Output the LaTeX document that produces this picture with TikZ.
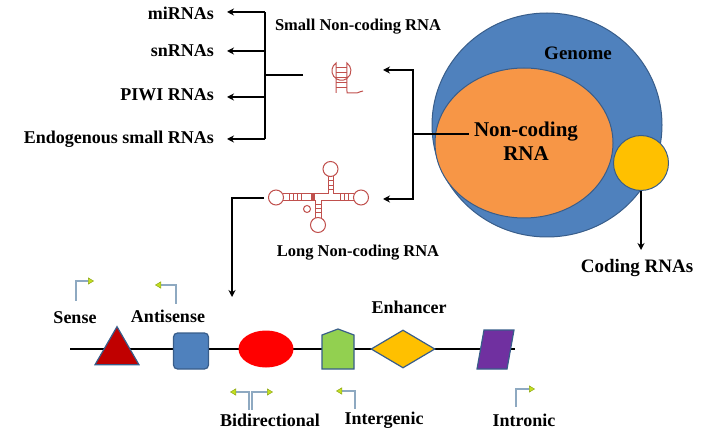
\documentclass[tikz,border=0pt]{standalone}
\usepackage{fontspec}
\setmainfont{Liberation Serif}
\usetikzlibrary{arrows.meta,shapes.geometric}
\definecolor{gblue}{HTML}{4F81BD}
\definecolor{gborder}{HTML}{385D8A}
\definecolor{orng}{HTML}{F79646}
\definecolor{ylw}{HTML}{FFC000}
\definecolor{rnared}{HTML}{C0504D}
\definecolor{prom}{HTML}{8EA9C1}
\definecolor{tipg}{HTML}{C4E020}
\definecolor{tipd}{HTML}{8FA818}
\definecolor{grn}{HTML}{92D050}
\definecolor{purp}{HTML}{7030A0}
\definecolor{dred}{HTML}{C00000}
\tikzset{
 lbl/.style={font=\bfseries\fontsize{18}{20}\selectfont, inner sep=0pt},
 slbl/.style={font=\bfseries\fontsize{16.5}{18}\selectfont, inner sep=0pt},
 conn/.style={line width=1.4pt, -{Stealth[length=7pt,width=7pt]}},
 line/.style={line width=1.4pt},
 pr/.style={draw=prom, line width=1.2pt, -{Triangle[length=6pt,width=7pt,fill=tipg,color=tipd,line width=0.5pt]}},
 rna/.style={draw=rnared, line width=1pt},
 shp/.style={draw=gborder, line width=1.2pt}
}
\begin{document}
\begin{tikzpicture}[x=1pt,y=-1pt]
\useasboundingbox (0,0) rectangle (706,435);
% Genome
\node[ellipse, fill=gblue, draw=gborder, line width=1pt, minimum width=230, minimum height=224] (genome) at (547,125) {};
\node[ellipse, fill=orng, draw=gborder, line width=1pt, minimum width=178, minimum height=150] (nc) at (524,143) {};
\node[circle, fill=ylw, draw=gborder, line width=1pt, minimum size=55] (cod) at (641,163) {};
\node[lbl, font=\bfseries\fontsize{19}{21}\selectfont] (gt) at (578,53) {Genome};
\node[lbl, align=center, font=\bfseries\fontsize{21}{24}\selectfont] (nct) at (526,141) {Non-coding\\RNA};
\node[lbl, font=\bfseries\fontsize{19}{21}\selectfont] (ct) at (637,268) {Coding RNAs};
\draw[conn] (cod.south) -- (641,250);
% branch to small / long
\coordinate (bj) at (413,134);
\coordinate (bs) at (383,70);
\coordinate (bl) at (383,199);
\draw[line] (nc.west |- bj) ++(34,0) -- (bj);
\draw[conn] (bj) -- (413,70) -- (bs);
\draw[conn] (bj) -- (413,199) -- (bl);
% small RNA icon
\node[slbl] (sn) at (358,27) {Small Non-coding RNA};
\draw[rna] (336,93) -- (336,63) arc[start angle=235,end angle=-55,radius=9.5] -- (347,93) -- (357,93) to[out=10,in=180] (363,91);
\foreach \y in {68,73,78,83,88} \draw[rna] (336,\y) -- (347,\y);
% small RNA list
\coordinate (sj) at (265,75);
\draw[line] (303,75) -- (sj);
\draw[line] (265,12) -- (265,139);
\node[lbl, anchor=east] (mi) at (214,13) {miRNAs};
\node[lbl, anchor=east] (sr) at (214,51) {snRNAs};
\node[lbl, anchor=east] (pw) at (214,95) {PIWI RNAs};
\node[lbl, anchor=east] (en) at (214,139) {Endogenous small RNAs};
\foreach \n/\y in {mi/12,sr/51,pw/97,en/139} \draw[conn] (265,\y) -- (227,\y);
% long RNA icon
\draw[rna] (283,194) -- (328,194) -- (328,176) (333,176) -- (333,194) -- (354,194)
 (283,201) -- (315,201) -- (315,218) (321,218) -- (321,201) -- (354,201);
\draw[rna] (276,197.5) circle (7.5) (361,197.5) circle (7.5) (330.5,169) circle (7.5) (318,225) circle (7.5) (307,209) circle (3.5);
\foreach \x in {289,293,297,301,340,344,348} \draw[rna] (\x,194) -- (\x,201);
\foreach \y in {181,186,190} \draw[rna] (328,\y) -- (333,\y);
\foreach \y in {205,209,213} \draw[rna] (315,\y) -- (321,\y);
\fill[rnared] (311,193) rectangle (315,201);
\node[slbl] (ln) at (358,253) {Long Non-coding RNA};
\coordinate (lc) at (232,198);
\draw[conn] (264,198) -- (lc) -- (232,297);
% genomic line
\coordinate (gl) at (70,349);
\coordinate (gr) at (515,349);
\draw[line] (gl) -- (gr);
\node[isosceles triangle, shape border rotate=90, isosceles triangle apex angle=60, fill=dred, draw=gborder, line width=1.2pt, minimum height=38, inner sep=0pt] (tri) at (117,352) {};
\node[rectangle, rounded corners=4pt, fill=gblue, draw=gborder, line width=1.2pt, minimum width=35, minimum height=36] (sq) at (191,351) {};
\node[ellipse, fill=red, minimum width=55, minimum height=37, inner sep=0pt] (el) at (266,349) {};
\draw[shp, fill=grn] (322,369) -- (322,335) -- (338,329) -- (354,335) -- (354,369) -- cycle;
\node[diamond, fill=ylw, draw=gborder, line width=1.2pt, minimum width=64, minimum height=38, inner sep=0pt, aspect=1.6] (dia) at (403,349) {};
\draw[shp, fill=purp] (477,369) -- (484,330) -- (514,330) -- (507,369) -- cycle;
% labels
\node[lbl] (se) at (75,318) {Sense};
\node[lbl] (an) at (168,316) {Antisense};
\node[lbl] (enh) at (409,307) {Enhancer};
\node[lbl] (bi) at (270,420) {Bidirectional};
\node[lbl] (ig) at (384,420) {Intergenic};
\node[lbl] (it) at (524,420) {Intronic};
% promoters
\draw[pr] (76,301) -- (76,281) -- (94,281);
\draw[pr] (176,304) -- (176,285) -- (155,285);
\draw[pr] (249,410) -- (249,392) -- (230,392);
\draw[pr] (252,410) -- (252,392) -- (273,392);
\draw[pr] (355,409) -- (355,391) -- (336,391);
\draw[pr] (516,407) -- (516,389) -- (535,389);
\end{tikzpicture}
\end{document}
